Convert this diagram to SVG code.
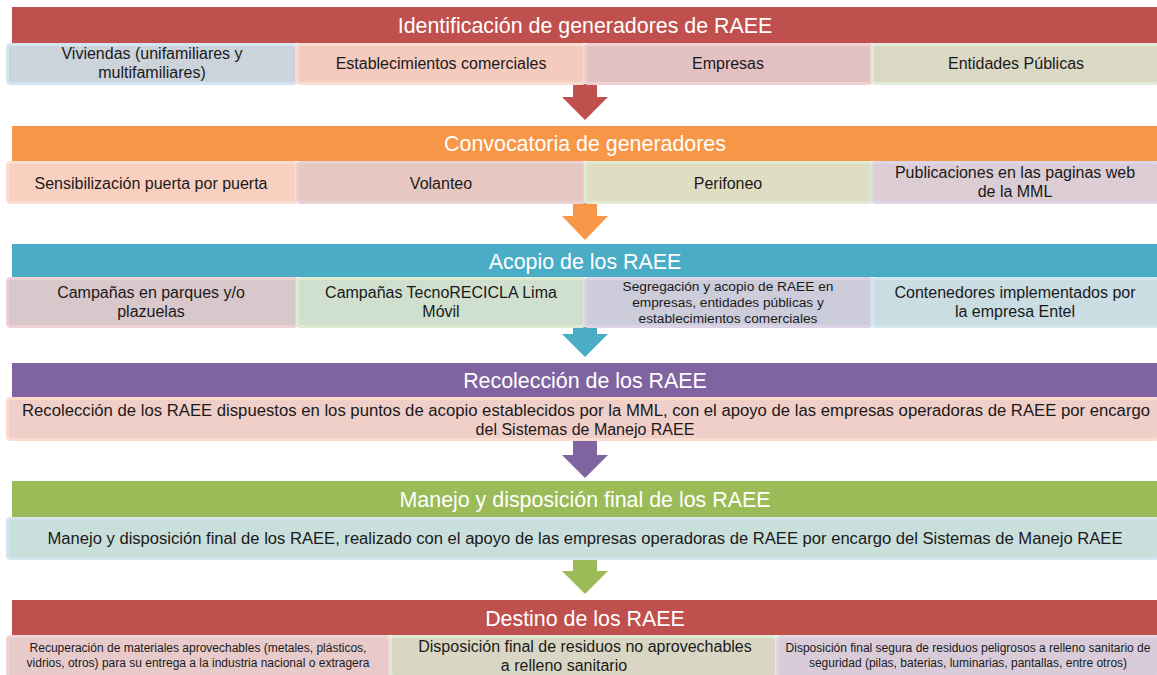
<svg xmlns="http://www.w3.org/2000/svg" width="1157" height="675" viewBox="0 0 1157 675">
<style>
.title{font-family:"Liberation Sans",Arial,sans-serif;font-size:21.4px;fill:#ffffff;text-anchor:middle}
.t{font-family:"Liberation Sans",Arial,sans-serif;font-size:16px;fill:#1a1a1a;text-anchor:middle}
.ts{font-family:"Liberation Sans",Arial,sans-serif;font-size:13.7px;fill:#1a1a1a;text-anchor:middle}
.tx{font-family:"Liberation Sans",Arial,sans-serif;font-size:12px;fill:#1a1a1a;text-anchor:middle}
.cell{stroke-width:3}
</style>
<rect width="1157" height="675" fill="#ffffff"/>

<g id="connectors">
<path d="M573,84 H597 V97 H608 L585,120 L562,97 H573 Z" fill="#C0504D"/>
<path d="M573,203 H597 V216 H608 L585,240 L562,216 H573 Z" fill="#F79646"/>
<path d="M573,327 H597 V334 H608 L585,357 L562,334 H573 Z" fill="#4BACC6"/>
<path d="M573,440 H597 V455 H608 L585,478 L562,455 H573 Z" fill="#8064A2"/>
<path d="M573,559 H597 V571 H608 L585,594 L562,571 H573 Z" fill="#9BBB59"/>
</g>

<g id="stage1">
<rect x="12" y="7" width="1145" height="36" fill="#C0504D"/>
<text class="title" x="585" y="33">Identificación de generadores de RAEE</text>
</g>
<g id="s1-viviendas">
<rect class="cell" x="7.5" y="44.5" width="289" height="39" rx="3" fill="#CDD3DB" stroke="#D3E6EF"/>
<text class="t" x="152" y="59">Viviendas (unifamiliares y</text>
<text class="t" x="152" y="78">multifamiliares)</text>
</g>
<g id="s1-comerciales">
<rect class="cell" x="297.5" y="44.5" width="287" height="39" rx="3" fill="#F5CBBE" stroke="#FADBCF"/>
<text class="t" x="441" y="69">Establecimientos comerciales</text>
</g>
<g id="s1-empresas">
<rect class="cell" x="585.5" y="44.5" width="286" height="39" rx="3" fill="#E3C1C1" stroke="#EDD0D0"/>
<text class="t" x="728" y="69">Empresas</text>
</g>
<g id="s1-entidades">
<rect class="cell" x="872.5" y="44.5" width="286" height="39" rx="3" fill="#DBD8C4" stroke="#E2EBD8"/>
<text class="t" x="1016" y="69">Entidades Públicas</text>
</g>

<g id="stage2">
<rect x="12" y="126" width="1145" height="35" fill="#F79646"/>
<text class="title" x="585" y="151">Convocatoria de generadores</text>
</g>
<g id="s2-sensibilizacion">
<rect class="cell" x="7.5" y="162.5" width="289" height="40" rx="3" fill="#F9D0C0" stroke="#FBDDD0"/>
<text class="t" x="151" y="189">Sensibilización puerta por puerta</text>
</g>
<g id="s2-volanteo">
<rect class="cell" x="297.5" y="162.5" width="287" height="40" rx="3" fill="#E7C8C1" stroke="#E8D0D6"/>
<text class="t" x="441" y="189">Volanteo</text>
</g>
<g id="s2-perifoneo">
<rect class="cell" x="585.5" y="162.5" width="286" height="40" rx="3" fill="#DFDEC2" stroke="#E0EBD3"/>
<text class="t" x="728" y="189">Perifoneo</text>
</g>
<g id="s2-publicaciones">
<rect class="cell" x="872.5" y="162.5" width="286" height="40" rx="3" fill="#DCCCD3" stroke="#DCD6E8"/>
<text class="t" x="1015" y="178">Publicaciones en las paginas web</text>
<text class="t" x="1015" y="197">de la MML</text>
</g>

<g id="stage3">
<rect x="12" y="244" width="1145" height="33" fill="#4BACC6"/>
<text class="title" x="585" y="269">Acopio de los RAEE</text>
</g>
<g id="s3-parques">
<rect class="cell" x="7.5" y="278.5" width="289" height="48" rx="3" fill="#D9C8CB" stroke="#EDD0D3"/>
<text class="t" x="151" y="298">Campañas en parques y/o</text>
<text class="t" x="151" y="317">plazuelas</text>
</g>
<g id="s3-tecnorecicla">
<rect class="cell" x="297.5" y="278.5" width="287" height="48" rx="3" fill="#D0E0CF" stroke="#DEEBD3"/>
<text class="t" x="441" y="298">Campañas TecnoRECICLA Lima</text>
<text class="t" x="441" y="317">Móvil</text>
</g>
<g id="s3-segregacion">
<rect class="cell" x="585.5" y="278.5" width="286" height="48" rx="3" fill="#CCCCDA" stroke="#DCD3E6"/>
<text class="ts" x="728" y="291">Segregación y acopio de RAEE en</text>
<text class="ts" x="728" y="307">empresas, entidades públicas y</text>
<text class="ts" x="728" y="323">establecimientos comerciales</text>
</g>
<g id="s3-contenedores">
<rect class="cell" x="872.5" y="278.5" width="286" height="48" rx="3" fill="#C9DDE3" stroke="#D3E6EE"/>
<text class="t" x="1015" y="298">Contenedores implementados por</text>
<text class="t" x="1015" y="317">la empresa Entel</text>
</g>

<g id="stage4">
<rect x="12" y="363" width="1145" height="34" fill="#8064A2"/>
<text class="title" x="585" y="388">Recolección de los RAEE</text>
</g>
<g id="s4-recoleccion">
<rect class="cell" x="7.5" y="398.5" width="1151" height="41" rx="3" fill="#F0CFC9" stroke="#FBDCCF"/>
<text class="t" x="586" y="416" textLength="1128" lengthAdjust="spacingAndGlyphs">Recolección de los RAEE dispuestos en los puntos de acopio establecidos por la MML, con el apoyo de las empresas operadoras de RAEE por encargo</text>
<text class="t" x="585" y="435">del Sistemas de Manejo RAEE</text>
</g>

<g id="stage5">
<rect x="12" y="481" width="1145" height="36" fill="#9BBB59"/>
<text class="title" x="585" y="507">Manejo y disposición final de los RAEE</text>
</g>
<g id="s5-manejo">
<rect class="cell" x="7.5" y="518.5" width="1151" height="40" rx="3" fill="#C9DFDC" stroke="#D3E5EC"/>
<text class="t" x="585" y="544" textLength="1075" lengthAdjust="spacingAndGlyphs">Manejo y disposición final de los RAEE, realizado con el apoyo de las empresas operadoras de RAEE por encargo del Sistemas de Manejo RAEE</text>
</g>

<g id="stage6">
<rect x="12" y="600" width="1145" height="35" fill="#C0504D"/>
<text class="title" x="585" y="626">Destino de los RAEE</text>
</g>
<g id="s6-recuperacion">
<rect class="cell" x="7.5" y="636.5" width="382" height="40" rx="3" fill="#E8CACA" stroke="#F0D3D3"/>
<text class="tx" x="198" y="652">Recuperación de materiales aprovechables (metales, plásticos,</text>
<text class="tx" x="198" y="667">vidrios, otros) para su entrega a la industria nacional o extragera</text>
</g>
<g id="s6-relleno">
<rect class="cell" x="390.5" y="636.5" width="386" height="40" rx="3" fill="#D9D7C3" stroke="#E1EAD3"/>
<text class="t" x="585" y="652">Disposición final de residuos no aprovechables</text>
<text class="t" x="564" y="671">a relleno sanitario</text>
</g>
<g id="s6-peligrosos">
<rect class="cell" x="777.5" y="636.5" width="381" height="40" rx="3" fill="#D9CCD8" stroke="#E2D6E6"/>
<text class="tx" x="968" y="652">Disposición final segura de residuos peligrosos a relleno sanitario de</text>
<text class="tx" x="968" y="667">seguridad (pilas, baterias, luminarias, pantallas, entre otros)</text>
</g>
</svg>
